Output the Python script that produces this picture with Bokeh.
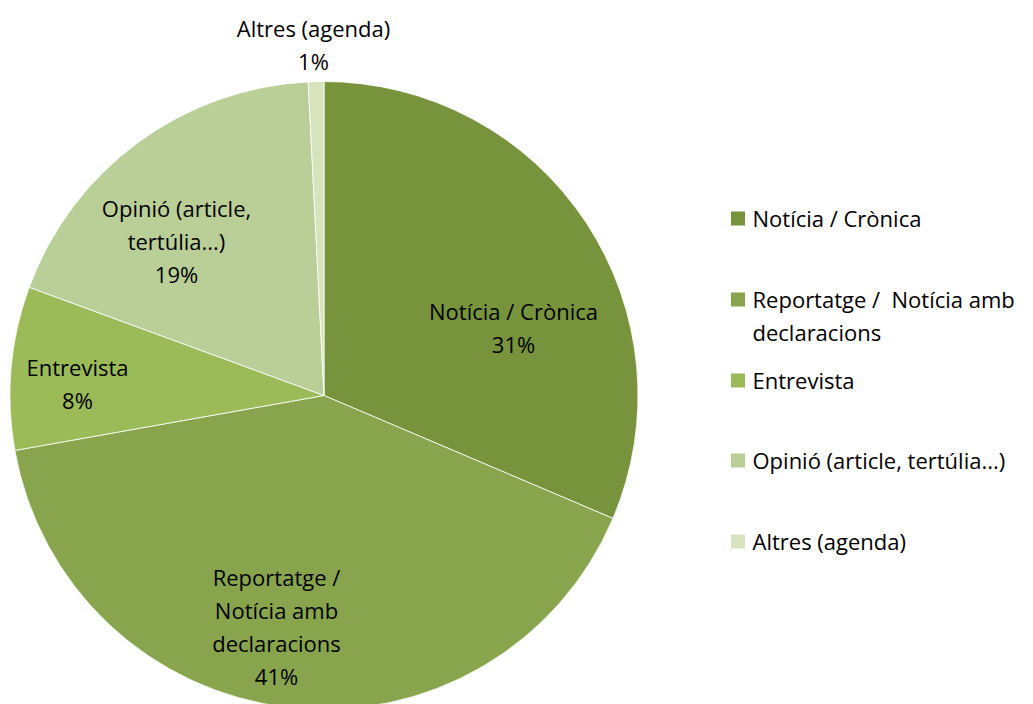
import math
from bokeh.plotting import figure
from bokeh.models import Range1d, ColumnDataSource
from bokeh.core.properties import value
from bokeh.embed import file_html
from bokeh.resources import INLINE

# ---- data ----
categories = ["Notícia / Crònica", "Reportatge /  Notícia amb declaracions", "Entrevista",
              "Opinió (article, tertúlia...)", "Altres (agenda)"]
shares = [31.4, 40.8, 8.4, 18.6, 0.8]
slice_labels = ["Notícia / Crònica", "Reportatge /\nNotícia amb\ndeclaracions", "Entrevista",
                "Opinió (article,\ntertúlia...)", "Altres (agenda)"]
legend_labels = ["Notícia / Crònica", "Reportatge /\u00a0 Notícia amb\ndeclaracions", "Entrevista",
                 "Opinió (article, tertúlia...)", "Altres (agenda)"]
colors = ["#77933C", "#88A54D", "#9BBB59", "#BACE97", "#D6E3BC"]

# ---- layout (pixel space) ----
W, H = 1033, 704
cx, cy, R = 323.5, H - 395, 314
label_pos = [(513, H - 327), (276, H - 626), (77, H - 383), (176, H - 240), (313, H - 44)]
legend_y = [H - 218, H - 299, H - 380, H - 460, H - 541]
FONT = "Open Sans"
FS = "22px"
LH = 1.1

p = figure(width=W, height=H, output_backend="svg", toolbar_location=None,
           x_range=Range1d(0, W), y_range=Range1d(0, H), min_border=0)
p.axis.visible = False
p.grid.visible = False
p.outline_line_color = None
p.background_fill_color = "white"
p.border_fill_color = "white"

total = sum(shares)
starts, ends = [], []
cum = 0.0
for s in shares:
    starts.append(math.pi / 2 - cum / total * 2 * math.pi)
    cum += s
    ends.append(math.pi / 2 - cum / total * 2 * math.pi)

src = ColumnDataSource(dict(x=[cx] * len(shares), y=[cy] * len(shares), start=starts, end=ends, color=colors))
p.wedge(x="x", y="y", radius=R, start_angle="start", end_angle="end", direction="clock",
        fill_color="color", line_color="white", line_width=0.8, source=src)

# slice labels
texts = [f"{lab}\n{round(s / total * 100):.0f}%" for lab, s in zip(slice_labels, shares)]
lsrc = ColumnDataSource(dict(x=[q[0] for q in label_pos], y=[q[1] for q in label_pos], t=texts))
p.text(x="x", y="y", text="t", source=lsrc, text_font=value(FONT), text_font_size=FS,
       text_align="center", text_baseline="middle", text_color="#000000", text_line_height=LH)

# legend
sq = ColumnDataSource(dict(x=[737.5] * len(colors), y=legend_y, color=colors))
p.rect(x="x", y="y", width=14, height=14, fill_color="color", line_color=None, source=sq)
tsrc = ColumnDataSource(dict(x=[752] * len(colors), y=[v + 16 for v in legend_y], t=legend_labels))
p.text(x="x", y="y", text="t", source=tsrc, text_font=value(FONT), text_font_size=FS,
       text_align="left", text_baseline="top", text_color="#000000", text_line_height=LH)

open("out.html", "w").write(file_html(p, INLINE))
